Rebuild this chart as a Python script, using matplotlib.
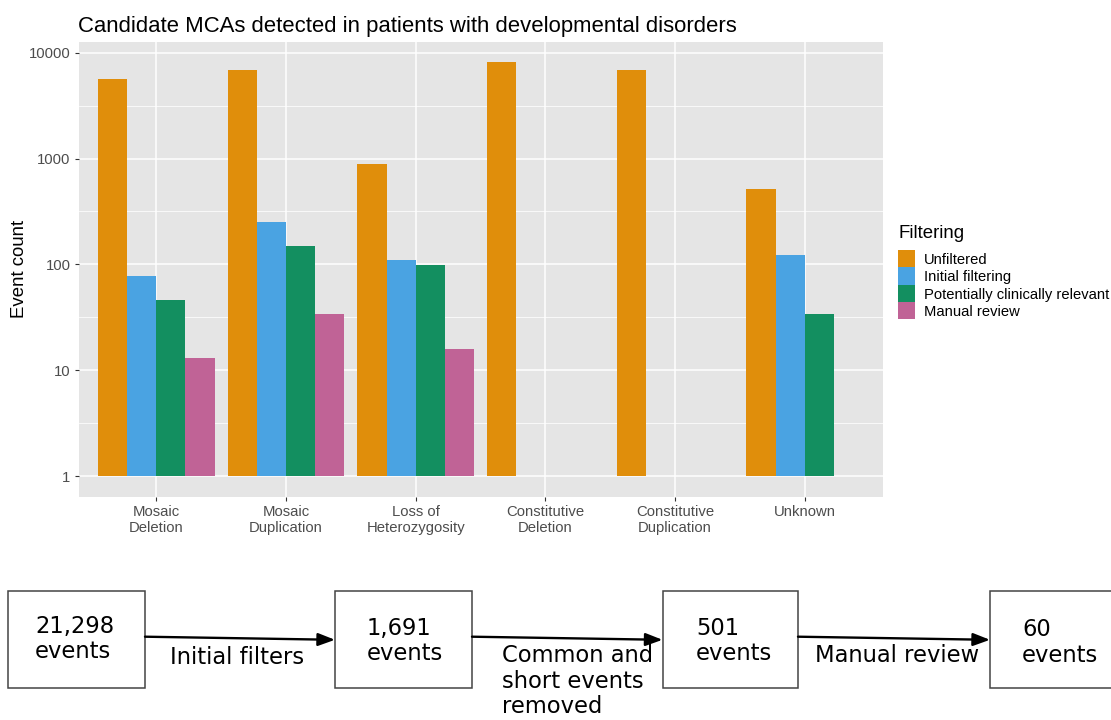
import numpy as np
import matplotlib
matplotlib.use("Agg")
import matplotlib.pyplot as plt
from matplotlib.patches import Rectangle

# ---------------- data ----------------
categories = ["Mosaic\nDeletion", "Mosaic\nDuplication", "Loss of\nHeterozygosity",
              "Constitutive\nDeletion", "Constitutive\nDuplication", "Unknown"]
series_names = ["Unfiltered", "Initial filtering", "Potentially clinically relevant", "Manual review"]
unfiltered = [5600, 6820, 890, 8110, 6820, 513]
initial_filtering = [78, 250, 110, np.nan, np.nan, 122]
clinically_relevant = [46, 149, 99, np.nan, np.nan, 34]
manual_review = [13, 34, 16, np.nan, np.nan, np.nan]
y_ticks = [1, 10, 100, 1000, 10000]
y_tick_labels = ["1", "10", "100", "1000", "10000"]

flow_counts = ["21,298", "1,691", "501", "60"]
flow_steps = ["Initial filters", "Common and\nshort events\nremoved", "Manual review"]

colors = ["#E08E0B", "#4AA3E2", "#138F60", "#C06396"]
series = [unfiltered, initial_filtering, clinically_relevant, manual_review]

W, H = 1111, 720
fig = plt.figure(figsize=(W / 100, H / 100), dpi=100)
fig.patch.set_facecolor("white")

GG = "Liberation Sans"

# ---------------- main panel ----------------
pl, pr, pt, pb = 78.5, 882.6, 41.7, 496.7
ax = fig.add_axes([pl / W, 1 - pb / H, (pr - pl) / W, (pb - pt) / H])
ax.set_facecolor("#E5E5E5")
for s in ax.spines.values():
    s.set_visible(False)

ax.set_yscale("log")
x = np.arange(1, len(categories) + 1)
bw = 0.9 / 4
for i, (vals, col) in enumerate(zip(series, colors)):
    v = np.array(vals, dtype=float)
    m = ~np.isnan(v)
    off = (i - 1.5) * bw
    ax.bar(x[m] + off, v[m] - 1, bottom=1, width=bw, color=col, linewidth=0, zorder=3)

allv = np.concatenate([np.array(s, dtype=float) for s in series])
lmax = np.log10(np.nanmax(allv))
rng = lmax - 0
ax.set_ylim(10 ** (-0.05 * rng), 10 ** (lmax + 0.05 * rng))
ax.set_xlim(0.4, len(categories) + 0.6)

ax.set_yticks(y_ticks)
ax.set_yticklabels(y_tick_labels)
ax.set_yticks([10 ** (k + 0.5) for k in range(4)], minor=True)
ax.set_xticks(x)
ax.set_xticklabels(categories)
ax.tick_params(axis="both", which="major", length=3.2, width=0.8, color="#333333",
               labelsize=10.7, labelcolor="#4D4D4D", pad=2.5)
ax.tick_params(axis="both", which="minor", length=0, labelleft=False)
for lab in ax.get_xticklabels() + ax.get_yticklabels():
    lab.set_fontfamily(GG)
for lab in ax.get_xticklabels():
    lab.set_linespacing(1.18)

ax.grid(True, which="major", color="white", linewidth=1.1, zorder=0)
ax.grid(True, which="minor", axis="y", color="white", linewidth=0.55, zorder=0)
ax.set_axisbelow(True)

ax.set_ylabel("Event count", fontsize=13.4, family=GG, color="black")
ax.yaxis.set_label_coords(-(pl - 28) / (pr - pl), 0.5)

fig.text(78 / W, 1 - 32.3 / H, "Candidate MCAs detected in patients with developmental disorders",
         fontsize=15.9, family=GG, color="black", ha="left", va="baseline")

# ---------------- legend ----------------
def fx(px):
    return px / W

def fy(py):
    return 1 - py / H

fig.text(fx(898), fy(238.3), "Filtering", fontsize=13.4, family=GG, ha="left", va="baseline")
key_top, key_h, key_w = 250.0, 17.3, 16.5
for i, (name, col) in enumerate(zip(series_names, colors)):
    top = key_top + i * key_h
    fig.add_artist(Rectangle((fx(898), fy(top + key_h)), key_w / W, key_h / H,
                             transform=fig.transFigure, facecolor=col, edgecolor="none"))
    fig.text(fx(923.5), fy(top + key_h / 2 + 5.5), name, fontsize=10.6, family=GG,
             ha="left", va="baseline", color="black")

# ---------------- flow diagram ----------------
ax2 = fig.add_axes([0, 0, 1, 1], zorder=-1)
ax2.set_xlim(0, W)
ax2.set_ylim(H, 0)
ax2.axis("off")
ax2.patch.set_visible(False)

boxes = [(7.5, 145), (335, 472), (662.5, 798), (990, 1126)]
box_top, box_bot = 591, 688
text_x = [35, 367, 696, 1022]
first_base = [633, 635, 635, 636]
DJ = "DejaVu Sans"
FS = 16.3
for (x0, x1), tx, fb, cnt in zip(boxes, text_x, first_base, flow_counts):
    ax2.add_patch(Rectangle((x0, box_top), x1 - x0, box_bot - box_top,
                            facecolor="white", edgecolor="#444444", lw=1.1))
    ax2.text(tx, fb, cnt, fontsize=FS, family=DJ, ha="left", va="baseline")
    ax2.text(tx, fb + 25.5, "events", fontsize=FS, family=DJ, ha="left", va="baseline")

arrow_y0, arrow_y1 = 636.7, 639.8
step_x = [170, 502, 815]
step_base = [664, 662, 662]
for k, (step, sx, sb) in enumerate(zip(flow_steps, step_x, step_base)):
    xa = boxes[k][1]
    xb = boxes[k + 1][0]
    ax2.annotate("", xy=(xb, arrow_y1), xytext=(xa, arrow_y0),
                 arrowprops=dict(arrowstyle="-|>,head_length=0.85,head_width=0.32",
                                 lw=1.7, color="black", shrinkA=0, shrinkB=0,
                                 mutation_scale=12))
    for j, line in enumerate(step.split("\n")):
        ax2.text(sx, sb + j * 25.5, line, fontsize=FS, family=DJ, ha="left", va="baseline")

fig.savefig("out.png", dpi=100, facecolor="white")
